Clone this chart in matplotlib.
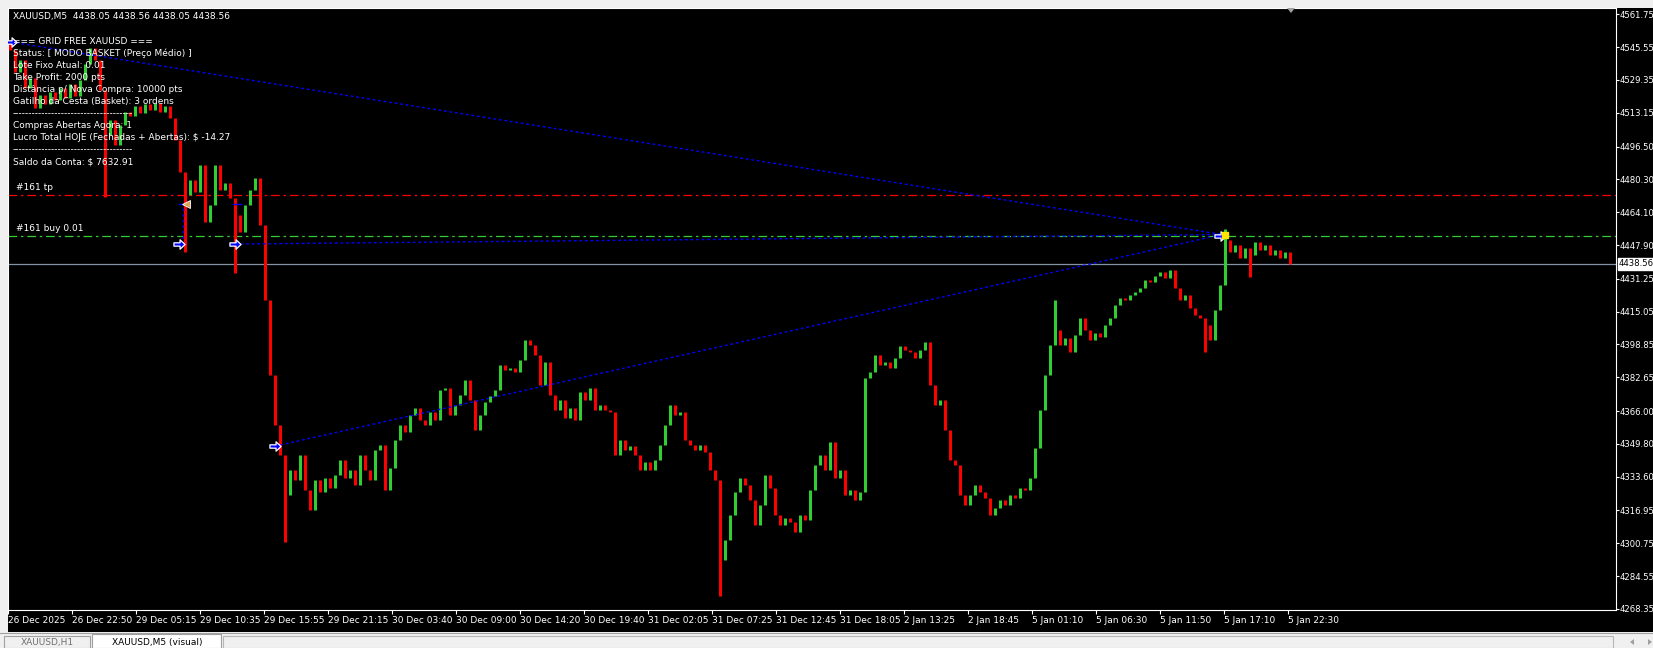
import matplotlib
matplotlib.use("Agg")
import matplotlib.pyplot as plt
import matplotlib.transforms as mtransforms
from matplotlib.patches import Rectangle, Polygon
from matplotlib.path import Path

# XAUUSD M5 - um candle a cada 5 barras (preço de fechamento)
fechamentos = [
    4544.1, 4533.3, 4539.2, 4525.4, 4530.3, 4515.5, 4521.9, 4517.5, 4523.4, 4519.5,
    4525.4, 4520.4, 4527.4, 4521.4, 4529.3, 4537.2, 4545.1, 4539.2, 4524.4, 4502.2,
    4509.6, 4497.3, 4507.1, 4513.5, 4511.6, 4516.5, 4513.1, 4517.5, 4514.5, 4518.0,
    4513.5, 4516.5, 4510.6, 4499.7, 4483.9, 4472.6, 4480.0, 4474.1, 4487.4, 4459.3,
    4467.7, 4487.4, 4475.1, 4478.5, 4471.1, 4462.7, 4454.3, 4467.7, 4475.1, 4481.0,
    4457.8, 4420.8, 4383.8, 4359.1, 4344.3, 4324.6, 4336.9, 4332.0, 4344.3, 4327.0,
    4317.2, 4332.0, 4326.1, 4333.0, 4328.0, 4334.4, 4341.8, 4333.0, 4336.9, 4329.5,
    4344.3, 4336.9, 4332.0, 4346.8, 4349.2, 4327.0, 4337.9, 4351.7, 4359.1, 4355.7,
    4364.0, 4367.5, 4361.6, 4359.1, 4365.5, 4361.6, 4376.4, 4377.4, 4364.0, 4369.0,
    4373.9, 4381.3, 4371.4, 4356.6, 4364.0, 4370.5, 4373.4, 4376.4, 4388.7, 4386.2,
    4387.2, 4385.3, 4391.2, 4401.0, 4398.6, 4393.6, 4378.8, 4390.2, 4373.9, 4366.5,
    4371.4, 4362.6, 4367.5, 4361.6, 4375.4, 4371.4, 4377.4, 4366.5, 4369.0, 4366.5,
    4365.5, 4344.3, 4351.7, 4346.8, 4348.7, 4344.3, 4336.9, 4340.9, 4336.9, 4341.8,
    4349.2, 4359.1, 4369.0, 4364.0, 4365.5, 4351.7, 4349.2, 4346.8, 4349.2, 4345.8,
    4336.9, 4332.0, 4292.5, 4302.4, 4314.7, 4326.1, 4333.0, 4329.5, 4322.1, 4309.8,
    4319.6, 4334.4, 4328.0, 4314.7, 4309.8, 4313.2, 4311.3, 4306.3, 4314.7, 4312.2,
    4327.0, 4339.4, 4344.3, 4336.9, 4350.7, 4333.0, 4336.9, 4324.6, 4327.0, 4322.1,
    4326.1, 4382.3, 4385.3, 4393.6, 4388.7, 4390.2, 4387.2, 4392.2, 4398.1, 4396.1,
    4395.1, 4392.2, 4396.1, 4400.1, 4378.8, 4369.0, 4371.4, 4356.6, 4341.8, 4339.4,
    4324.6, 4319.6, 4324.6, 4329.5, 4326.1, 4323.1, 4314.7, 4318.2, 4322.1, 4319.6,
    4324.6, 4323.1, 4328.0, 4327.0, 4333.0, 4347.8, 4366.5, 4383.8, 4398.6, 4406.0,
    4398.6, 4402.0, 4395.1, 4403.5, 4411.9, 4406.0, 4401.0, 4404.5, 4402.5, 4408.4,
    4411.9, 4418.3, 4421.8, 4420.8, 4423.3, 4424.7, 4426.7, 4430.7, 4429.7, 4432.6,
    4434.6, 4431.6, 4435.6, 4426.7, 4420.8, 4423.3, 4416.8, 4413.4, 4411.9, 4408.4,
    4401.0, 4415.9, 4428.2, 4450.4, 4444.5, 4447.9, 4441.5, 4446.4, 4443.0, 4449.4,
    4445.5, 4447.9, 4443.0, 4445.5, 4441.5, 4444.5, 4438.56,
]
abertura_inicial = 4548.0

# pavios longos: (indice do candle, preço extremo)
pavio_idx = [19, 35, 45, 55, 142, 209, 239, 243, 248]
pavio_preco = [4471.6, 4444.5, 4434.1, 4301.4, 4274.7, 4420.8, 4395.1, 4455.8, 4432.1]

rotulos_tempo = [
    "26 Dec 2025", "26 Dec 22:50", "29 Dec 05:15", "29 Dec 10:35", "29 Dec 15:55",
    "29 Dec 21:15", "30 Dec 03:40", "30 Dec 09:00", "30 Dec 14:20", "30 Dec 19:40",
    "31 Dec 02:05", "31 Dec 07:25", "31 Dec 12:45", "31 Dec 18:05", "2 Jan 13:25",
    "2 Jan 18:45", "5 Jan 01:10", "5 Jan 06:30", "5 Jan 11:50", "5 Jan 17:10",
    "5 Jan 22:30",
]
precos_eixo = [
    4561.75, 4545.55, 4529.35, 4513.15, 4496.50, 4480.30, 4464.10, 4447.90, 4431.25,
    4415.05, 4398.85, 4382.65, 4366.00, 4349.80, 4333.60, 4316.95, 4300.75, 4284.55,
    4268.35,
]

bid = 4438.56
tp_preco = 4472.45
buy_preco = 4452.45

# setas de compra (posição em barras M5, preço)
compras_barra = [2.5, 171, 227, 267, 1212]
compras_preco = [4548.1, 4448.4, 4448.4, 4348.7, 4452.45]
# fechamento das linhas de histórico
fech_barra = 1214
fech_preco = 4453.1
# ordem parcial fechada (seta laranja)
parcial_barra = [171, 177.7]
parcial_preco = [4468.0, 4468.0]

info = [
    "=== GRID FREE XAUUSD ===",
    "Status: [ MODO BASKET (Preço Médio) ]",
    "Lote Fixo Atual: 0.01",
    "Take Profit: 2000 pts",
    "Distância p/ Nova Compra: 10000 pts",
    "Gatilho da Cesta (Basket): 3 ordens",
    "-" * 37,
    "Compras Abertas Agora: 1",
    "Lucro Total HOJE (Fechadas + Abertas): $ -14.27",
    "-" * 37,
    "Saldo da Conta: $ 7632.91",
]

plt.rcParams['font.family'] = ['DejaVu Sans']
FS = 6.5

W, H = 1653, 648
fig = plt.figure(figsize=(W / 100, H / 100), dpi=100, facecolor='#F0F0F0')


def fx(px):
    return px / W


def fy(py):
    return 1 - py / H


# janela preta do gráfico (atrás dos eixos)
fig.patches.append(Rectangle((fx(8), fy(632)), (W - 8) / W, (632 - 8) / H,
                             transform=fig.transFigure, facecolor='black', edgecolor='none',
                             zorder=-5))

ax = fig.add_axes([fx(8), fy(610), (1616 - 8) / W, (610 - 8) / H])
ax.set_facecolor('black')
ax.set_xlim(0, 1608)
ax.set_ylim(4267.84, 4564.86)
for s in ax.spines.values():
    s.set_color('white')
    s.set_linewidth(0.8)

# candles
aberturas = [abertura_inicial] + fechamentos[:-1]
xs, lows, highs, cores = [], [], [], []
for i, (o, c) in enumerate(zip(aberturas, fechamentos)):
    lo, hi = min(o, c), max(o, c)
    if i in pavio_idx:
        p = pavio_preco[pavio_idx.index(i)]
        lo, hi = min(lo, p), max(hi, p)
    xs.append(2 + 5 * i)
    lows.append(lo)
    highs.append(hi)
    cores.append('#32CD32' if c >= o else '#FF0000')
ax.vlines(xs, lows, highs, colors=cores, linewidth=2.2, zorder=3)

# linhas da ordem
ax.axhline(tp_preco, color='#FF0000', lw=0.9, ls=(0, (7, 3, 2, 3)), zorder=2)
ax.axhline(buy_preco, color='#32CD32', lw=0.9, ls=(0, (7, 3, 2, 3)), zorder=2)
ax.axhline(bid, color='#8493A3', lw=0.9, zorder=2)

trans_lbl = mtransforms.blended_transform_factory(ax.transAxes, ax.transData)
ax.text(8 / 1608, tp_preco + 1.5, "#161 tp", color='white', fontsize=FS,
        transform=trans_lbl, va='bottom', ha='left')
ax.text(8 / 1608, buy_preco + 1.5, "#161 buy 0.01", color='white', fontsize=FS,
        transform=trans_lbl, va='bottom', ha='left')

# linhas de histórico pontilhadas
for b, p in zip([compras_barra[0], compras_barra[2], compras_barra[3]],
                [compras_preco[0], compras_preco[2], compras_preco[3]]):
    ax.plot([b, fech_barra], [p, fech_preco], color='#0000FF', lw=1,
            ls=(0, (2, 2)), zorder=4)
ax.plot([compras_barra[1] + 4, compras_barra[1] + 4], [compras_preco[1], parcial_preco[0]],
        color='#0000FF', lw=1, ls=(0, (2, 2)), zorder=4)
ax.plot(parcial_barra, parcial_preco, color='#0000FF', lw=1, zorder=4)
ax.plot([225, 233], [4468.0, 4468.0], color='#0000FF', lw=1, zorder=4)

seta = Path([(-1, -0.3), (0.1, -0.3), (0.1, -0.85), (1, 0), (0.1, 0.85), (0.1, 0.3),
             (-1, 0.3), (-1, -0.3)],
            [Path.MOVETO] + [Path.LINETO] * 6 + [Path.CLOSEPOLY])
ax.plot(compras_barra, compras_preco, ls='none', marker=seta, markersize=8,
        markerfacecolor='#0000FF', markeredgecolor='white', markeredgewidth=0.9, zorder=6)
ax.plot([parcial_barra[1]], [parcial_preco[1]], ls='none', marker='<', markersize=6,
        markerfacecolor='#DDA75A', markeredgecolor='white', markeredgewidth=0.6, zorder=6)
ax.plot([fech_barra + 3], [fech_preco], ls='none', marker='s', markersize=5,
        markerfacecolor='#FFE400', markeredgecolor='#FFE400', zorder=6)

# eixo de tempo
ax.set_xticks([64 * k for k in range(len(rotulos_tempo))])
ax.set_xticklabels(rotulos_tempo, ha='left')
ax.tick_params(axis='x', colors='white', length=3, width=0.8, pad=1.5, labelsize=FS)

# eixo de preços
ax.yaxis.tick_right()
ax.set_yticks(precos_eixo)
ax.set_yticklabels(["%.2f" % p for p in precos_eixo])
ax.tick_params(axis='y', colors='white', length=2.2, width=0.8, pad=0.6, labelsize=6.1)
ax.text(1 + 3 / 1608, bid, "%.2f" % bid, transform=trans_lbl, color='black', fontsize=6.1,
        ha='left', va='center', zorder=10,
        bbox=dict(boxstyle='square,pad=0.15', facecolor='white', edgecolor='white'))

# marcador de deslocamento no topo
fig.patches.append(Polygon([(fx(1287), fy(8)), (fx(1295), fy(8)), (fx(1291), fy(13))],
                           closed=True, transform=fig.transFigure, facecolor='#A0A0A0',
                           edgecolor='none'))

# cabeçalho e painel de informações
fig.text(fx(13), fy(16), "XAUUSD,M5  4438.05 4438.56 4438.05 4438.56", color='white',
         fontsize=FS, ha='left', va='center')
linhas_y = [41.7, 53.3, 65.7, 77.7, 89.7, 101.7, 114, 126, 137.7, 150, 162]
for t, y in zip(info, linhas_y):
    fig.text(fx(13), fy(y), t, color='white', fontsize=FS, ha='left', va='center', zorder=8)

# barra de abas inferior
fig.lines.append(plt.Line2D([0, 1], [fy(633), fy(633)], transform=fig.transFigure,
                            color='#A0A0A0', lw=0.8))
fig.patches.append(Rectangle((fx(4), fy(648)), 86 / W, 12 / H, transform=fig.transFigure,
                             facecolor='#F0F0F0', edgecolor='#A0A0A0', lw=0.8))
fig.text(fx(47), fy(642.5), "XAUUSD,H1", color='#707070', fontsize=FS, ha='center', va='center')
fig.patches.append(Rectangle((fx(92), fy(648)), 129 / W, 14 / H, transform=fig.transFigure,
                             facecolor='white', edgecolor='#A0A0A0', lw=0.8))
fig.text(fx(157), fy(642), "XAUUSD,M5 (visual)", color='black', fontsize=FS, ha='center', va='center')
fig.patches.append(Rectangle((fx(223), fy(648)), 1390 / W, 12 / H, transform=fig.transFigure,
                             facecolor='#F0F0F0', edgecolor='#B8B8B8', lw=0.8))
for xa, d in [(1632, -1), (1650, 1)]:
    fig.patches.append(Polygon([(fx(xa - 2 * d), fy(639)), (fx(xa - 2 * d), fy(645)),
                                (fx(xa + 2 * d), fy(642))], closed=True,
                               transform=fig.transFigure, facecolor='#A0A0A0', edgecolor='none'))

fig.savefig("out.png", dpi=100, facecolor=fig.get_facecolor())
